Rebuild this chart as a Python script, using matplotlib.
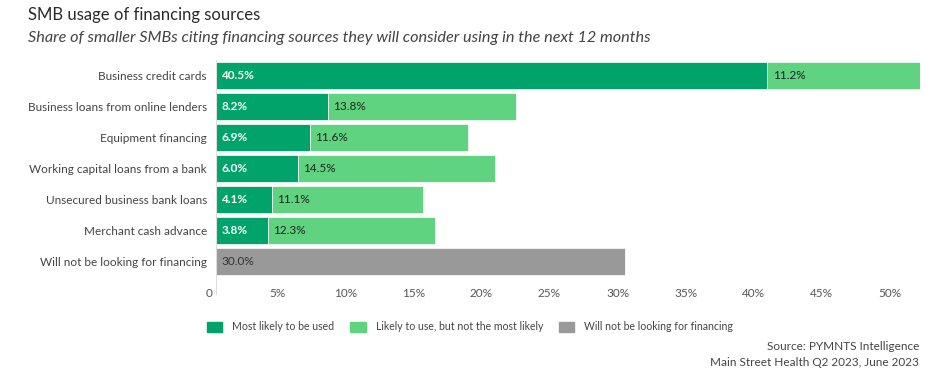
import matplotlib
matplotlib.use('Agg')
import matplotlib.pyplot as plt
import matplotlib.transforms as mtransforms
from matplotlib.patches import Patch

plt.rcParams['font.family'] = ['Lato', 'DejaVu Sans']

categories = ['Business credit cards', 'Business loans from online lenders',
              'Equipment financing', 'Working capital loans from a bank',
              'Unsecured business bank loans', 'Merchant cash advance',
              'Will not be looking for financing']
most_likely = [40.5, 8.2, 6.9, 6.0, 4.1, 3.8, 0]
likely = [11.2, 13.8, 11.6, 14.5, 11.1, 12.3, 0]
not_looking = [0, 0, 0, 0, 0, 0, 30.0]
ticks = [0, 5, 10, 15, 20, 25, 30, 35, 40, 45, 50]
tick_labels = ['0'] + [f'{t}%' for t in ticks[1:]]

c_dark = '#00a36a'
c_light = '#5fd37f'
c_gray = '#999999'

fig = plt.figure(figsize=(9.36, 3.70), dpi=100)
ax = fig.add_axes([216 / 936, 1 - 277 / 370, 704 / 936, 217 / 370])

y = list(range(len(categories)))
ax.barh(y, most_likely, height=0.9, color=c_dark, edgecolor='white', linewidth=0.5)
ax.barh(y, likely, left=most_likely, height=0.9, color=c_light, edgecolor='white', linewidth=0.5)
ax.barh(y, not_looking, height=0.9, color=c_gray, edgecolor='white', linewidth=0.5)

pad = 0.4
for i in y:
    if most_likely[i] > 0:
        ax.text(pad, i, f'{most_likely[i]:.1f}%', va='center', ha='left',
                color='white', fontsize=8.5, fontweight='bold')
    if likely[i] > 0:
        ax.text(most_likely[i] + pad, i, f'{likely[i]:.1f}%', va='center', ha='left',
                color='#222222', fontsize=8.5)
    if not_looking[i] > 0:
        ax.text(pad, i, f'{not_looking[i]:.1f}%', va='center', ha='left',
                color='#333333', fontsize=8.5)

ax.set_xlim(0, 51.7)
ax.set_ylim(len(categories) - 0.5, -0.5)
ax.set_yticks(y)
ax.set_yticklabels(categories, fontsize=8.5, color='#444444')
ax.set_xticks(ticks)
ax.set_xticklabels(tick_labels, fontsize=8.5, color='#555555')
ax.tick_params(axis='both', length=0)
ax.tick_params(axis='y', pad=6.5)
ax.tick_params(axis='x', pad=8)
# tick labels sit a little left of their ticks in the original
shift = mtransforms.ScaledTranslation(-7 / 100, 0, fig.dpi_scale_trans)
for lab in ax.get_xticklabels():
    lab.set_transform(lab.get_transform() + shift)
for s in ['top', 'right', 'bottom']:
    ax.spines[s].set_visible(False)
ax.spines['left'].set_color('#dddddd')
ax.spines['left'].set_bounds(len(categories) - 0.5 + 0.55, -0.5)
ax.spines['left'].set_clip_on(False)

fig.text(28 / 936, 1 - 15 / 370, 'SMB usage of financing sources', fontsize=12,
         color='#2a2a2a', va='center', ha='left')
fig.text(28 / 936, 1 - 38 / 370,
         'Share of smaller SMBs citing financing sources they will consider using in the next 12 months',
         fontsize=11.7, style='italic', color='#444444', va='center', ha='left')

handles = [Patch(color=c_dark, label='Most likely to be used'),
           Patch(color=c_light, label='Likely to use, but not the most likely'),
           Patch(color=c_gray, label='Will not be looking for financing')]
fig.legend(handles=handles, loc='center left', bbox_to_anchor=(207 / 936, 1 - 327 / 370),
           ncol=3, frameon=False, fontsize=7.6, handlelength=1.45, handleheight=1.15,
           handletextpad=0.95, columnspacing=1.5, borderpad=0, borderaxespad=0,
           labelcolor='#444444')

fig.text(919 / 936, 1 - 346 / 370, 'Source: PYMNTS Intelligence', fontsize=8.5,
         color='#444444', ha='right', va='center')
fig.text(919 / 936, 1 - 363 / 370, 'Main Street Health Q2 2023, June 2023', fontsize=8.5,
         color='#444444', ha='right', va='center')

fig.savefig('out.png', dpi=100)
